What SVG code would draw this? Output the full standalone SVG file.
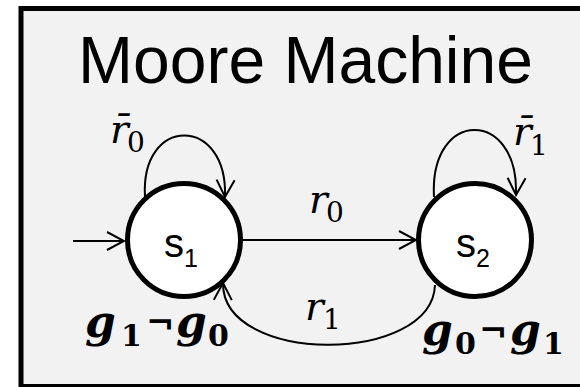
<svg xmlns="http://www.w3.org/2000/svg" width="580" height="387" viewBox="0 0 580 387">
  <defs>
    <style>
      .frame { fill: #f2f2f2; stroke: #000; stroke-width: 5; }
      .state { fill: #fff; stroke: #000; stroke-width: 5; }
      .edge { fill: none; stroke: #000; stroke-width: 2; }
      .title { font-family: "Liberation Sans", Arial, sans-serif; font-size: 66px; fill: #000; }
      .name { font-family: "Liberation Sans", Arial, sans-serif; font-size: 40px; fill: #000; }
      .name .sub { font-size: 25px; }
      .var { font-family: "DejaVu Serif", "Liberation Serif", serif; font-style: italic; font-size: 39px; fill: #000; }
      .var .sub { font-style: normal; font-size: 28px; }
      .out { font-family: "DejaVu Serif", "Liberation Serif", serif; font-weight: bold; font-size: 44px; fill: #000; }
      .out .g { font-style: italic; }
      .out .sub { font-size: 30px; }
      .out .not { font-size: 34px; }
    </style>
    <marker id="arrow" viewBox="-20 -11 22 22" refX="0" refY="0" markerWidth="22" markerHeight="22" markerUnits="userSpaceOnUse" orient="auto">
      <path d="M-17,-9 L0,0 L-17,9" fill="none" stroke="#000" stroke-width="2"/>
    </marker>
  </defs>

  <rect width="580" height="387" fill="#fff"/>
  <rect class="frame" x="21" y="8.5" width="570" height="378"/>

  <text class="title" x="305.5" y="83" text-anchor="middle">Moore Machine</text>

  <g id="s1">
    <circle class="state" cx="184" cy="240" r="56.5"/>
    <text class="name" x="164" y="257">s<tspan class="sub" x="184" y="267">1</tspan></text>
    <text class="out" x="85" y="337"><tspan class="g">g</tspan><tspan class="sub" x="121" y="346">1</tspan><tspan class="not" x="146" y="334">¬</tspan><tspan class="g" x="176" y="337">g</tspan><tspan class="sub" x="208" y="346">0</tspan></text>
  </g>

  <g id="s2">
    <circle class="state" cx="475" cy="240" r="56.5"/>
    <text class="name" x="456" y="257">s<tspan class="sub" x="476" y="267">2</tspan></text>
    <text class="out" x="422" y="345"><tspan class="g">g</tspan><tspan class="sub" x="455" y="354">0</tspan><tspan class="not" x="479" y="342">¬</tspan><tspan class="g" x="510" y="345">g</tspan><tspan class="sub" x="543" y="354">1</tspan></text>
  </g>

  <g id="connectors">
    <path id="start" class="edge" d="M73,241 H124" marker-end="url(#arrow)"/>
    <path id="s1-s2" class="edge" d="M242,240 H416" marker-end="url(#arrow)"/>
    <path id="s1-s1" class="edge" d="M145,197 C140,115 228,115 225,197" marker-end="url(#arrow)"/>
    <path id="s2-s2" class="edge" d="M434,197 C429,108 519,108 516,195" marker-end="url(#arrow)"/>
    <path id="s2-s1" class="edge" d="M435,285 C432,365 222,365 223,283" marker-end="url(#arrow)"/>
  </g>

  <g id="labels">
    <text class="var" x="110" y="143">r̄<tspan class="sub" x="127" y="152">0</tspan></text>
    <text class="var" x="309" y="213">r<tspan class="sub" x="326" y="222">0</tspan></text>
    <text class="var" x="513" y="145">r̄<tspan class="sub" x="530" y="155">1</tspan></text>
    <text class="var" x="305" y="320">r<tspan class="sub" x="323" y="329">1</tspan></text>
  </g>
</svg>
